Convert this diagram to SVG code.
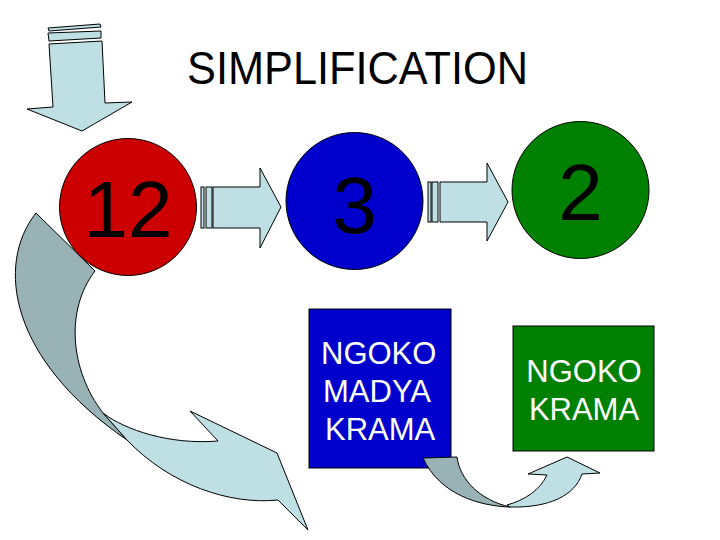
<svg xmlns="http://www.w3.org/2000/svg" width="720" height="540" viewBox="0 0 720 540">
<style>
.t{font-family:"Liberation Sans",Arial,sans-serif;}
.num{font-size:80px;fill:#000;text-anchor:middle;}
.lbl{font-size:31px;fill:#fff;}
.light{fill:#BEE0E4;stroke:#000;stroke-width:1;stroke-linejoin:miter;}
.dark{fill:#98B2B6;stroke:#000;stroke-width:1;}
.node{stroke:#000;stroke-width:1;}
</style>
<rect width="720" height="540" fill="#fff"/>
<text class="t" x="357.5" y="84" font-size="46" textLength="341" lengthAdjust="spacingAndGlyphs" text-anchor="middle">SIMPLIFICATION</text>

<g id="connectors">
  <g id="arrow-down">
    <polygon class="light" points="48,28 100,24 101,27 49,31"/>
    <polygon class="light" points="48,33 101,31 101,38 49,41"/>
    <polygon class="light" points="49,44 102,41 105,103 132,102 82,131 27,109 53,107"/>
  </g>
  <g id="arrow-12-3">
    <rect class="light" x="201" y="187" width="3" height="41"/>
    <rect class="light" x="206" y="187" width="6" height="41"/>
    <polygon class="light" points="213,187 260,187 260,168 281,207 260,248 260,228 213,228"/>
  </g>
  <g id="arrow-3-2">
    <rect class="light" x="428" y="182" width="3" height="40"/>
    <rect class="light" x="432" y="182" width="6" height="40"/>
    <polygon class="light" points="440,182 487,182 487,163 508,202 487,241 487,222 440,222"/>
  </g>
</g>

<g id="node-12">
  <circle class="node" cx="128" cy="207" r="68.5" fill="#CC0000"/>
  <text class="t num" x="128" y="237">12</text>
</g>
<g id="node-3">
  <circle class="node" cx="354.5" cy="201" r="68.5" fill="#0000CC"/>
  <text class="t num" x="354.5" y="233">3</text>
</g>
<g id="node-2">
  <circle class="node" cx="580.5" cy="190" r="68.5" fill="#008000"/>
  <text class="t num" x="580.5" y="220">2</text>
</g>

<g id="node-ngoko-madya-krama">
  <rect class="node" x="309" y="309" width="142" height="159" fill="#0000CC"/>
  <text class="t lbl" x="321" y="364">NGOKO</text>
  <text class="t lbl" x="323" y="402">MADYA</text>
  <text class="t lbl" x="325" y="440">KRAMA</text>
</g>
<g id="node-ngoko-krama">
  <rect class="node" x="513" y="326" width="141" height="125" fill="#008000"/>
  <text class="t lbl" x="584" y="382" text-anchor="middle">NGOKO</text>
  <text class="t lbl" x="584" y="420" text-anchor="middle">KRAMA</text>
</g>

<g id="curved-connectors">
  <g id="curve-big">
    <path class="dark" d="M36,213 C-5,265 10,360 127,440 L103,413 C70,370 65,310 95,271 Z"/>
    <path class="light" d="M103,413 C125,430 170,445 218,441 L190,411 L277,453 L308,530 L278,500 C230,505 170,485 127,440 Z"/>
  </g>
  <g id="curve-small">
    <path class="dark" d="M423,458 L457,457 C460,480 480,500 510,507 C480,506 440,495 423,458 Z"/>
    <path class="light" d="M507,505 C525,500 540,490 547,475 L528,474 L567,457 L600,473 L582,474 C575,495 550,508 510,507 Z"/>
  </g>
</g>
</svg>
